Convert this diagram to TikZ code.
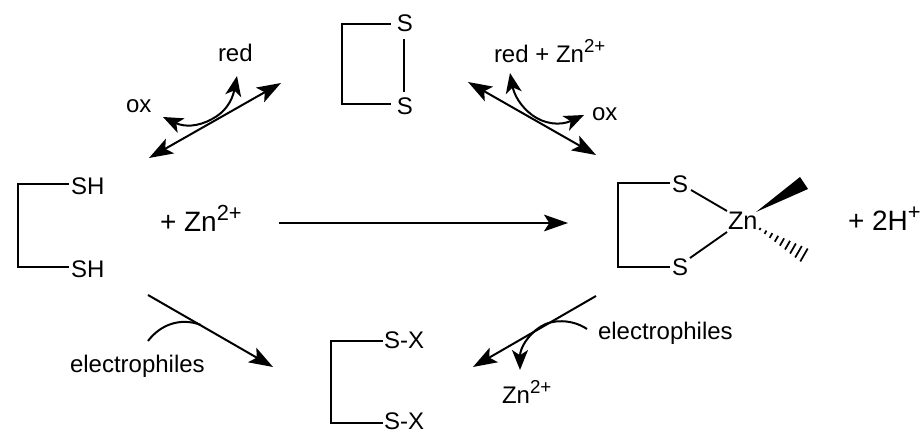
\documentclass[tikz,border=0pt]{standalone}
\usepackage{fontspec}
\usepackage{graphicx}
\setmainfont{Liberation Sans}
\usetikzlibrary{arrows.meta,calc}
\newcommand{\upidx}[1]{\raisebox{0.42em}{\scalebox{0.78}{#1}}}
\tikzset{
  lbl/.style={anchor=base west,inner sep=0pt,outer sep=0pt,font=\fontsize{18}{20}\selectfont},
  lblbig/.style={anchor=base west,inner sep=0pt,outer sep=0pt,font=\fontsize{21}{23}\selectfont},
  atom/.style={anchor=base,inner sep=0pt,outer sep=0pt,font=\fontsize{18}{20}\selectfont},
  bond/.style={line width=1.5pt,line cap=rect,line join=miter},
  thinbond/.style={line width=1.4pt},
  tip/.tip={Stealth[length=18pt,width=12.5pt,inset=4pt]},
  rxn/.style={line width=1.5pt,-tip},
  rxntwo/.style={line width=1.5pt,tip-tip},
  curl/.style={line width=1.5pt,-{Stealth[length=15pt,width=12pt,inset=4pt]}},
  curlplain/.style={line width=1.5pt}
}
\begin{document}
\begin{tikzpicture}[x=0.75pt,y=-0.75pt]
\useasboundingbox (0,0) rectangle (922,434);
% top disulfide
\node[atom] (s1) at (405,32) {S};
\node[atom] (s2) at (405,115) {S};
\coordinate (s1a) at (342,24);
\coordinate (s2a) at (342,104);
\coordinate (s1b) at (390,24);
\coordinate (s2b) at (390,104);
\draw[bond] (s1b) -- (s1a) -- (s2a) -- (s2b);
\coordinate (ssa) at (404,39);
\coordinate (ssb) at (404,92);
\draw[thinbond] (ssa) -- (ssb);
% left dithiol
\node[lbl] (sh1) at (71,195) {SH};
\node[lbl] (sh2) at (71,278) {SH};
\coordinate (la) at (18,184);
\coordinate (lb) at (18,267);
\draw[bond] (sh1.west |- la) ++(-2pt,0) -- (la) -- (lb) -- ($(sh2.west |- lb)+(-2pt,0)$);
\node[lblbig] (znp) at (160,232) {+ Zn\upidx{2+}};
% complex
\node[atom] (cs1) at (680,193) {S};
\node[atom] (cs2) at (680,276) {S};
\node[lbl,font=\fontsize{19}{20}\selectfont] (zn) at (728,230) {Zn};
\coordinate (ca) at (618,183);
\coordinate (cb) at (618,267);
\coordinate (ca2) at (669,183);
\coordinate (cb2) at (669,267);
\draw[bond] (ca2) -- (ca) -- (cb) -- (cb2);
\coordinate (b1a) at (691,190);
\coordinate (b1b) at (727,211);
\coordinate (b2a) at (690,258);
\coordinate (b2b) at (727,232);
\draw[thinbond] (b1a) -- (b1b);
\draw[thinbond] (b2a) -- (b2b);
\coordinate (w0) at (756,212);
\coordinate (w1) at (800,177);
\coordinate (w2) at (808,189);
\fill (w0) -- (w1) -- (w2) -- cycle;
\foreach \t/\h in {0/1.2,0.125/1.9,0.25/2.7,0.375/3.4,0.5/4.2,0.625/5,0.75/5.8,0.875/6.6,1/7.4}{
  \draw[line width=1.3pt] ($(760,229)!\t!(804,255)+(0.5*\h,-0.87*\h)$) -- ($(760,229)!\t!(804,255)+(-0.5*\h,0.87*\h)$);
}
\node[lblbig] (twoh) at (848,231) {+ 2H\upidx{+}};
% bottom
\node[lbl] (sx1) at (384,349) {S-X};
\node[lbl] (sx2) at (384,430) {S-X};
\coordinate (da) at (331,341);
\coordinate (db) at (331,423);
\coordinate (da2) at (382,341);
\coordinate (db2) at (382,423);
\draw[bond] (da2) -- (da) -- (db) -- (db2);
% main arrows
\coordinate (tl1) at (149,158);
\coordinate (tl2) at (281,83);
\draw[rxntwo] (tl1) -- (tl2);
\coordinate (tr1) at (468,82);
\coordinate (tr2) at (596,155);
\draw[rxntwo] (tr1) -- (tr2);
\coordinate (h1) at (279,223);
\coordinate (h2) at (568,223);
\draw[rxn] (h1) -- (h2);
\coordinate (bl1) at (148,295);
\coordinate (bl2) at (273,367);
\draw[rxn] (bl1) -- (bl2);
\coordinate (br1) at (596,296);
\coordinate (br2) at (473,367);
\draw[rxn] (br1) -- (br2);
% curls
\node[lbl] (red1) at (218,62) {red};
\node[lbl] (ox1) at (126,113) {ox};
\coordinate (c1m) at (212,119);
\coordinate (c1o) at (163,117);
\coordinate (c1r) at (237,76);
\draw[curl] (c1m) .. controls (198,127) and (184,127) .. (c1o);
\draw[curl] (c1m) .. controls (224,113) and (232,102) .. (c1r);
\node[lbl] (red2) at (494,63) {red + Zn\upidx{2+}};
\node[lbl] (ox2) at (592,121) {ox};
\coordinate (c2m) at (532,115);
\coordinate (c2r) at (510,73);
\coordinate (c2o) at (584,115);
\draw[curl] (c2m) .. controls (520,106) and (514,94) .. (c2r);
\draw[curl] (c2m) .. controls (544,124) and (560,126) .. (c2o);
\node[lbl] (el1) at (70,373) {electrophiles};
\coordinate (e1a) at (148,341);
\coordinate (e1b) at (201,325);
\draw[curlplain] (e1a) .. controls (160,325) and (180,317) .. (e1b);
\node[lbl] (el2) at (598,340) {electrophiles};
\coordinate (e2a) at (587,329);
\coordinate (e2b) at (540,327);
\coordinate (e2c) at (520,370);
\draw[curlplain] (e2a) .. controls (572,319) and (552,319) .. (e2b);
\draw[curl] (e2b) .. controls (528,335) and (520,348) .. (e2c);
\node[lbl] (zn2) at (502,404) {Zn\upidx{2+}};
\end{tikzpicture}
\end{document}
